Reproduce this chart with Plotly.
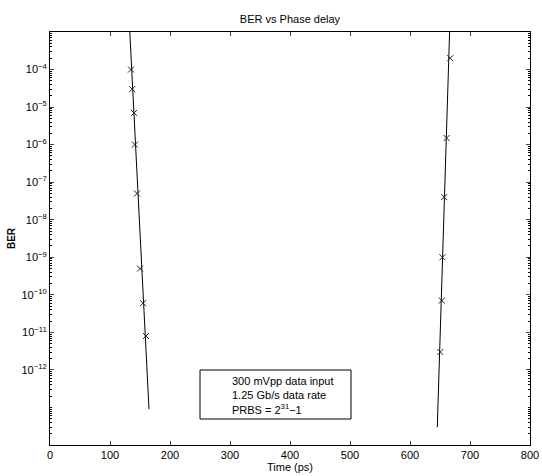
import plotly.graph_objects as go

# Measured points (time in ps, BER)
left_time = [135, 137, 140, 141.5, 145, 150, 155, 160]
left_ber = [1e-4, 3e-5, 7e-6, 1e-6, 5e-8, 5e-10, 6e-11, 8e-12]
right_time = [667, 661, 657, 654, 653, 650.5]
right_ber = [2e-4, 1.5e-6, 4e-8, 1e-9, 7e-11, 3e-12]

# Fitted lines (endpoints)
left_fit_time = [133, 165]
left_fit_ber = [1e-3, 9e-14]
right_fit_time = [666, 645.5]
right_fit_ber = [1e-3, 3e-14]

x_ticks = [0, 100, 200, 300, 400, 500, 600, 700, 800]
y_exps = list(range(-14, -2))
labeled_exps = list(range(-12, -3))

font = "Liberation Sans, Arial, sans-serif"

fig = go.Figure()
for t, b in [(left_fit_time, left_fit_ber), (right_fit_time, right_fit_ber)]:
    fig.add_trace(go.Scatter(x=t, y=b, mode="lines",
                             line=dict(color="black", width=1), showlegend=False))
for t, b in [(left_time, left_ber), (right_time, right_ber)]:
    fig.add_trace(go.Scatter(x=t, y=b, mode="markers",
                             marker=dict(symbol="x-thin-open", size=6, color="#222",
                                         line=dict(width=1, color="#222")),
                             showlegend=False))

major_vals = [10.0 ** e for e in labeled_exps]
major_text = ["10<sup>−%d</sup>" % (-e) for e in labeled_exps]
minor_vals = [m * 10.0 ** e for e in y_exps[:-1] for m in range(1, 10)
              if not (m == 1 and e in labeled_exps)] + [1e-3]

fig.update_layout(
    width=542, height=476,
    margin=dict(l=50, r=12, t=32, b=31),
    paper_bgcolor="white", plot_bgcolor="white",
    font=dict(family=font, size=11, color="black"),
    title=dict(text="BER vs Phase delay", x=0.535, xanchor="center", y=0.96, yanchor="middle",
               font=dict(size=11)),
    xaxis=dict(range=[0, 800], tickvals=x_ticks, ticks="inside", ticklen=4,
               showline=True, linecolor="black", linewidth=1, mirror="ticks",
               showgrid=False, zeroline=False, automargin=False,
               title=dict(text="Time (ps)", standoff=2, font=dict(size=11))),
    yaxis=dict(type="log", range=[-14, -3], tickmode="array", tickvals=major_vals,
               ticktext=major_text, ticks="inside", ticklen=4,
               showline=True, linecolor="black", linewidth=1, mirror="ticks",
               showgrid=False, zeroline=False, automargin=False,
               minor=dict(tickmode="array", tickvals=minor_vals, ticks="inside",
                          ticklen=2, tickcolor="black"),
               title=dict(text="<b>BER</b>", standoff=4, font=dict(size=10))),
    shapes=[dict(type="rect", xref="paper", yref="paper",
                 x0=(200 - 50) / 480, x1=(351 - 50) / 480,
                 y0=(445 - 419) / 413, y1=(445 - 370) / 413,
                 line=dict(color="black", width=1), fillcolor="white")],
    annotations=[dict(xref="paper", yref="paper", x=(230 - 50) / 480, y=(445 - 395) / 413,
                      xanchor="left", yanchor="middle", align="left", showarrow=False,
                      text="300 mVpp data input<br>1.25 Gb/s data rate<br>PRBS = 2<sup>31</sup>−1",
                      font=dict(size=11))],
)

fig.write_html("out.html", config={"displayModeBar": False},
               post_script="document.body.style.margin='0px';")
